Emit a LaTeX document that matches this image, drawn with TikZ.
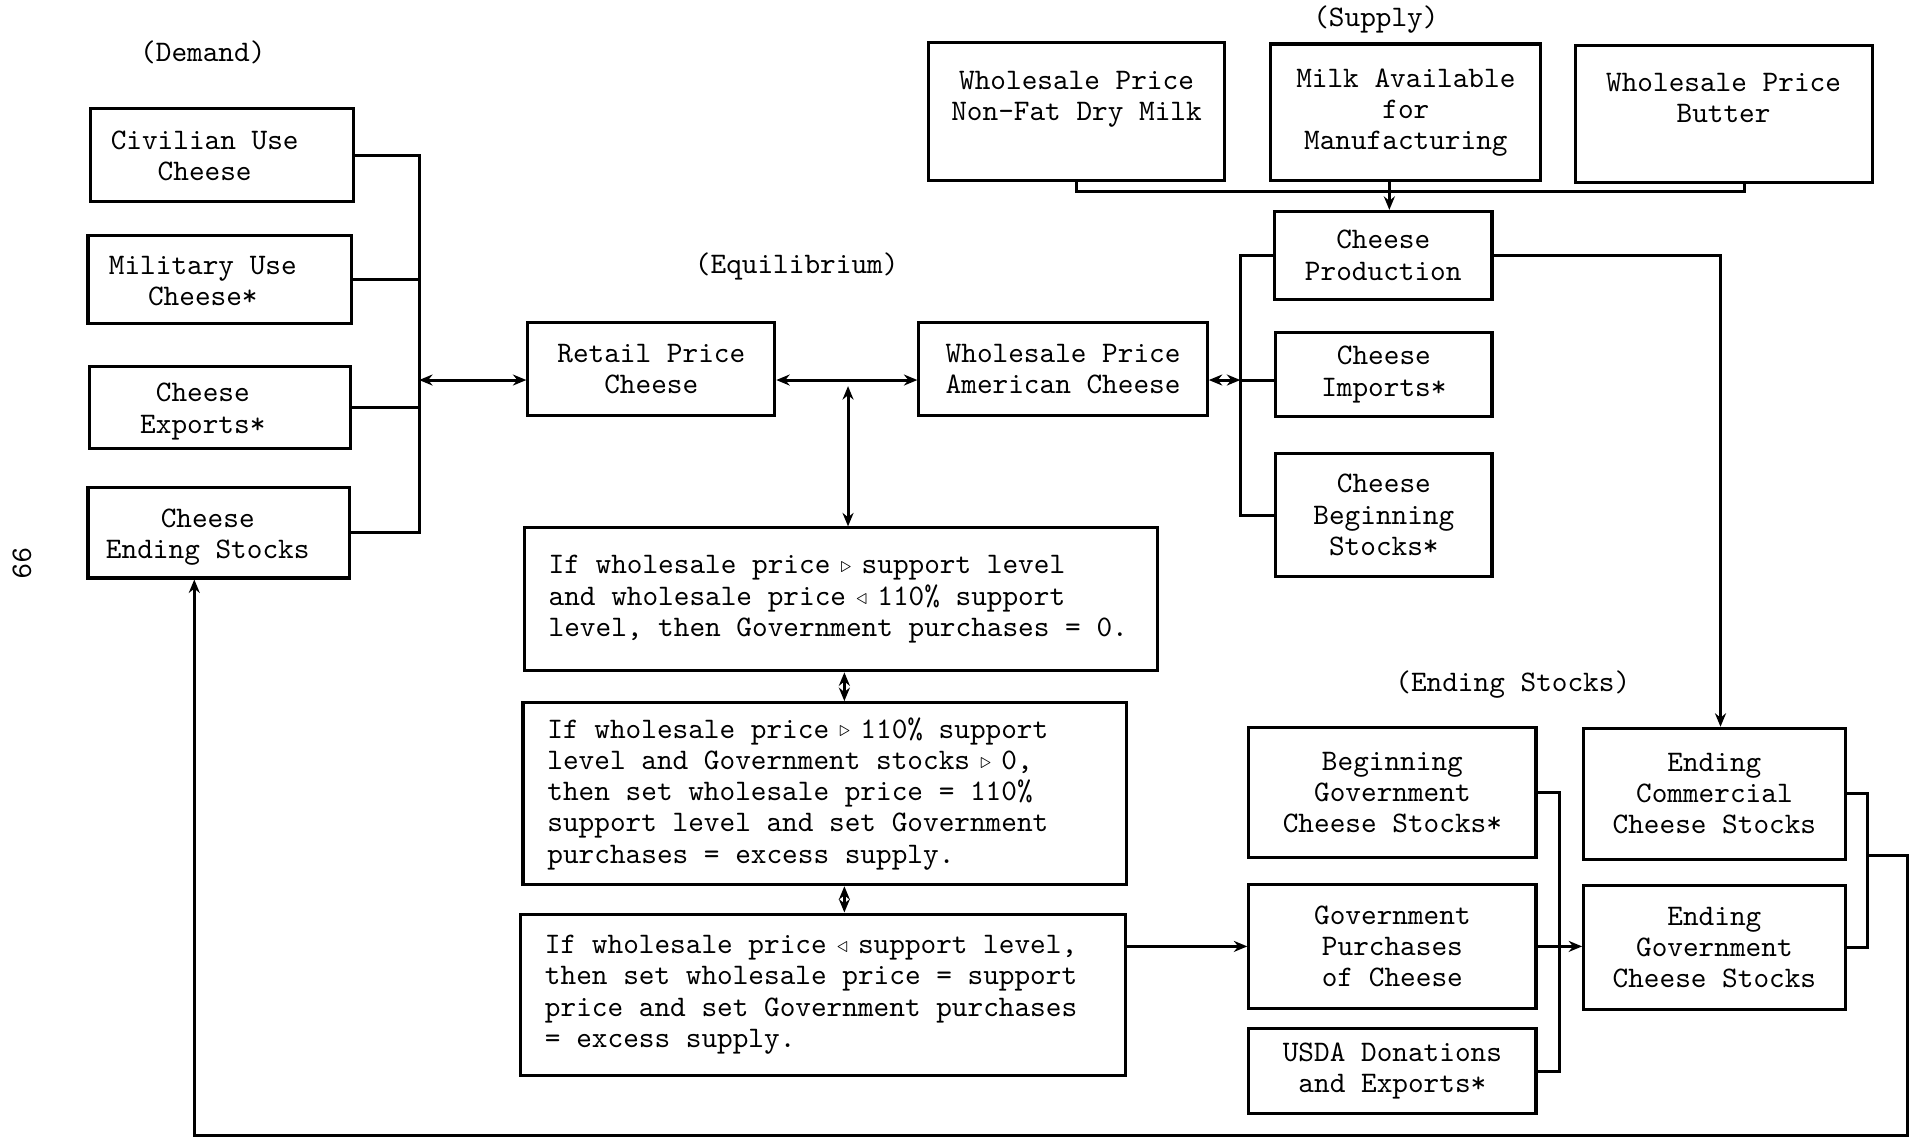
\documentclass[tikz,border=0pt]{standalone}
\usepackage{fontspec}
\usepackage{graphicx}
\setmonofont{lmmono10-regular.otf}
\usetikzlibrary{arrows.meta}
\newcommand\boxfont{\fontsize{24.4}{25.6}\selectfont\ttfamily}
\newcommand\gtsym{\makebox[2\fontcharwd\font`x]{\raisebox{1pt}{\scalebox{0.72}{$\triangleright$}}}}
\newcommand\ltsym{\makebox[2\fontcharwd\font`x]{\raisebox{1pt}{\scalebox{0.72}{$\triangleleft$}}}}
\newcommand\demtext[2][28pt]{\raisebox{-3pt}[\dimexpr\height+3pt\relax][\dimexpr\depth+3pt\relax]{\begin{tabular}{@{}c@{}}#2\end{tabular}}\hspace*{#1}}
\begin{document}
\begin{tikzpicture}[x=1pt,y=-1pt,line width=2.5pt,>={Stealth[length=11pt,width=9pt]},
    blk/.style={draw,rectangle,inner sep=0pt,align=center,font=\boxfont},
    rulebox/.style={draw,rectangle,inner xsep=20pt,inner ysep=0pt,align=left,font=\boxfont,
      execute at begin node={\spaceskip=0pt\xspaceskip=0pt}},
    hdr/.style={font=\boxfont}]
  \useasboundingbox (0,0) rectangle (1568,932.6);
  % headings
  \node[hdr] (demand) at (166,43) {(Demand)};
  \node[hdr] (equil) at (652,218) {(Equilibrium)};
  \node[hdr] (supply) at (1126,16) {(Supply)};
  \node[hdr] (ending) at (1238,560) {(Ending Stocks)};
  \node[hdr,rotate=-90] (pg) at (18,461) {99};
  % demand
  \node[blk,minimum width=215pt,minimum height=76pt] (civ) at (181.5,127) {\demtext{Civilian Use\\Cheese}};
  \node[blk,minimum width=216pt,minimum height=72pt] (mil) at (180,229) {\demtext{Military Use\\Cheese*}};
  \node[blk,minimum width=214pt,minimum height=67pt] (exp) at (180,333.5) {\demtext{Cheese\\Exports*}};
  \node[blk,minimum width=214pt,minimum height=74pt] (endst) at (179,436) {\demtext[18pt]{Cheese\\Ending Stocks}};
  % equilibrium
  \node[blk,minimum width=202pt,minimum height=76pt] (retail) at (533,302) {Retail Price\\Cheese};
  \node[blk,minimum width=236pt,minimum height=76pt] (whol) at (870,302) {Wholesale Price\\American Cheese};
  \node[rulebox,text width=478pt,minimum height=117pt] (cond1) at (688,490.5)
    {If wholesale price\gtsym{}support level\\and wholesale price\ltsym{}110\% support\\level, then Government purchases = 0.};
  \node[rulebox,text width=454pt,minimum height=149pt] (cond2) at (675,649.5)
    {If wholesale price\gtsym{}110\% support\\level and Government stocks\gtsym{}0,\\then set wholesale price = 110\%\\support level and set Government\\purchases = excess supply.};
  \node[rulebox,text width=455pt,minimum height=132pt] (cond3) at (673.5,814)
    {If wholesale price\ltsym{}support level,\\then set wholesale price = support\\price and set Government purchases\\= excess supply.};
  % supply
  \node[blk,minimum width=242pt,minimum height=113pt] (nfdm) at (881,91.5) {Wholesale Price\\Non-Fat Dry Milk\\\mbox{}};
  \node[blk,minimum width=221pt,minimum height=112pt] (milk) at (1150.5,92) {Milk Available\\for\\Manufacturing};
  \node[blk,minimum width=243pt,minimum height=112pt] (butter) at (1410.5,93) {Wholesale Price\\Butter\\\mbox{}};
  \node[blk,minimum width=178pt,minimum height=72pt] (prod) at (1132,209) {Cheese\\Production};
  \node[blk,minimum width=177pt,minimum height=69pt] (imp) at (1132.5,306.5) {Cheese\\Imports*};
  \node[blk,minimum width=177pt,minimum height=101pt] (begst) at (1132.5,421.5) {Cheese\\Beginning\\Stocks*};
  % ending stocks
  \node[blk,minimum width=235pt,minimum height=107pt] (bgs) at (1139.5,648.5) {Beginning\\Government\\Cheese Stocks*};
  \node[blk,minimum width=235pt,minimum height=101pt] (gp) at (1139.5,774.5) {Government\\Purchases\\of Cheese};
  \node[blk,minimum width=235pt,minimum height=69pt] (usda) at (1139.5,876.5) {USDA Donations\\and Exports*};
  \node[blk,minimum width=214pt,minimum height=107pt] (comm) at (1403,649.5) {Ending\\Commercial\\Cheese Stocks};
  \node[blk,minimum width=214pt,minimum height=101pt] (egov) at (1403,775.5) {Ending\\Government\\Cheese Stocks};
  % demand bus
  \coordinate (dbus) at (343,311);
  \draw (civ.east) -| (dbus);
  \draw (mil.east) -| (dbus);
  \draw (exp.east) -| (dbus);
  \draw (endst.east) -| (dbus);
  \draw[<->] (dbus) -- (retail.west |- dbus);
  % equilibrium links
  \coordinate (eq) at (694,311);
  \coordinate (cx) at (691,0);
  \draw[<->] (retail.east |- eq) -- (whol.west |- eq);
  \draw[<->] ([yshift=-5pt]eq) -- (cond1.north -| eq);
  \draw[<->] (cond1.south -| cx) -- (cond2.north -| cx);
  \draw[<->] (cond2.south -| cx) -- (cond3.north -| cx);
  \draw[->] (cond3.east |- gp.west) -- (gp.west);
  % supply links
  \coordinate (sj) at (1137,157);
  \draw (nfdm.south) |- (sj) -| ([xshift=17pt]butter.south);
  \draw[->] (milk.south -| sj) -- (prod.north -| sj);
  \coordinate (sbus) at (1015,311);
  \draw (prod.west) -| (sbus);
  \draw (begst.west) -| (sbus);
  \draw (imp.west |- sbus) -- (sbus);
  \draw[<->] (whol.east |- sbus) -- (sbus);
  \draw[->] (prod.east) -| ([xshift=5pt]comm.north);
  % ending stocks links
  \coordinate (ebus) at (1276,775);
  \draw (bgs.east) -| (ebus);
  \draw (usda.east) -| (ebus);
  \draw[->] (gp.east) -- (egov.west |- gp.east);
  \coordinate (rbus) at (1528,700);
  \draw (comm.east) -| (rbus);
  \draw (egov.east) -| (rbus);
  \coordinate (fb) at (1561,929);
  \draw[->] (rbus) -| (fb) -| ([xshift=-20pt]endst.south);
\end{tikzpicture}
\end{document}
